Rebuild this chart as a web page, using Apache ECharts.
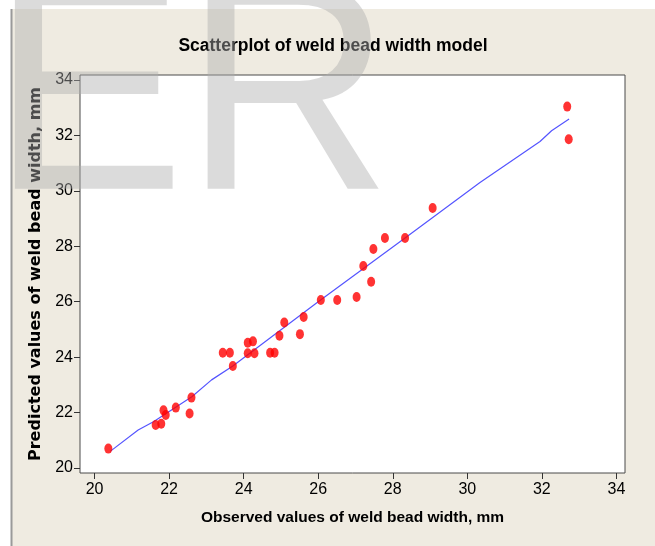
<!DOCTYPE html>
<html>
<head>
<meta charset="utf-8">
<script src="https://cdn.jsdelivr.net/npm/echarts@6/dist/echarts.min.js"></script>
<style>
html, body { margin: 0; padding: 0; background: #fff; }
#chart { width: 655px; height: 546px; }
</style>
</head>
<body>
<div id="chart"></div>
<script>
// observed vs predicted weld bead width (mm)
var observed = [20.37, 21.64, 21.79, 21.85, 21.91, 22.18, 22.55, 22.60, 23.44, 23.63,
    23.71, 24.11, 24.11, 24.25, 24.29, 24.71, 24.83, 24.96, 25.09, 25.51,
    25.61, 26.07, 26.51, 27.03, 27.21, 27.42, 27.48, 27.79, 28.33, 29.07,
    32.68, 32.72];
var predicted = [20.70, 21.55, 21.60, 22.08, 21.91, 22.18, 21.97, 22.54, 24.16, 24.16,
    23.68, 24.52, 24.14, 24.57, 24.14, 24.16, 24.16, 24.77, 25.25, 24.83,
    25.45, 26.06, 26.06, 26.17, 27.29, 26.72, 27.90, 28.30, 28.30, 29.38,
    33.04, 31.86];
// fitted (smoothed) line
var fitX = [20.42, 21.17, 21.58, 22.61, 23.14, 23.71, 26.00, 28.33, 30.34, 31.95, 32.26, 32.73];
var fitY = [20.60, 21.37, 21.67, 22.57, 23.18, 23.68, 26.00, 28.30, 30.30, 31.78, 32.17, 32.59];
var ticks = [20, 22, 24, 26, 28, 30, 32, 34];

var chart = echarts.init(document.getElementById('chart'));

var sans = "'Liberation Sans', Arial, sans-serif";

function axis(min, max, margin) {
    return {
        type: 'value',
        min: min,
        max: max,
        axisLine: { show: false },
        splitLine: { show: false },
        axisTick: { show: true, customValues: ticks, length: 6, lineStyle: { color: '#333', width: 1 } },
        axisLabel: { customValues: ticks, margin: margin, fontFamily: sans, fontSize: 16, color: '#000' }
    };
}

var xAxis = axis(19.61, 34.23, 9);
xAxis.name = 'Observed values of weld bead width, mm';
xAxis.nameLocation = 'middle';
xAxis.nameGap = 37;
xAxis.nameTextStyle = { fontFamily: sans, fontWeight: 'bold', fontSize: 15.5, color: '#000' };

var yAxis = axis(19.82, 34.18, 7);
yAxis.name = 'Predicted values of weld bead width, mm';
yAxis.nameLocation = 'middle';
yAxis.nameGap = 33;
yAxis.nameTextStyle = { fontFamily: "'DejaVu Sans', sans-serif", fontWeight: 'bold', fontSize: 16, color: '#000' };

var points = observed.map(function (x, i) { return [x, predicted[i]]; });
var fit = fitX.map(function (x, i) { return [x, fitY[i]]; });

var option = {
    backgroundColor: '#fff',
    animation: false,
    title: {
        text: 'Scatterplot of weld bead width model',
        left: 333,
        top: 37,
        padding: 0,
        textAlign: 'center',
        textStyle: { fontFamily: sans, fontWeight: 'bold', fontSize: 17.5, color: '#000' }
    },
    grid: {
        left: 80, right: 30, top: 75, bottom: 73,
        show: true,
        backgroundColor: '#fff',
        borderColor: '#4a4a4a',
        borderWidth: 1,
        outerBoundsMode: 'none'
    },
    xAxis: xAxis,
    yAxis: yAxis,
    graphic: [
        {
            type: 'rect', z: -10, silent: true,
            shape: { x: 11, y: 9, width: 644, height: 537 },
            style: { fill: '#efebe1' }
        },
        {
            type: 'line', z: -9, silent: true,
            shape: { x1: 11.5, y1: 9, x2: 11.5, y2: 546 },
            style: { stroke: '#9a9a9a', lineWidth: 2 }
        },
        // faint "ER" watermark over the picture
        {
            type: 'text', z: 100, silent: true,
            x: -9, y: 106, scaleX: 0.97,
            style: { text: 'E', font: "300px 'Liberation Sans'", fill: '#aeaeae', opacity: 0.44, verticalAlign: 'middle' }
        },
        {
            type: 'text', z: 100, silent: true,
            x: 184, y: 106, scaleX: 0.96,
            style: { text: 'R', font: "300px 'Liberation Sans'", fill: '#aeaeae', opacity: 0.44, verticalAlign: 'middle' }
        }
    ],
    series: [
        {
            type: 'line',
            data: fit,
            showSymbol: false,
            smooth: false,
            lineStyle: { color: '#5555ff', width: 1.2 },
            z: 3
        },
        {
            type: 'scatter',
            data: points,
            symbol: 'circle',
            symbolSize: [8, 10],
            itemStyle: { color: '#ff0000' },
            z: 4
        }
    ]
};

chart.setOption(option);
</script>
</body>
</html>
